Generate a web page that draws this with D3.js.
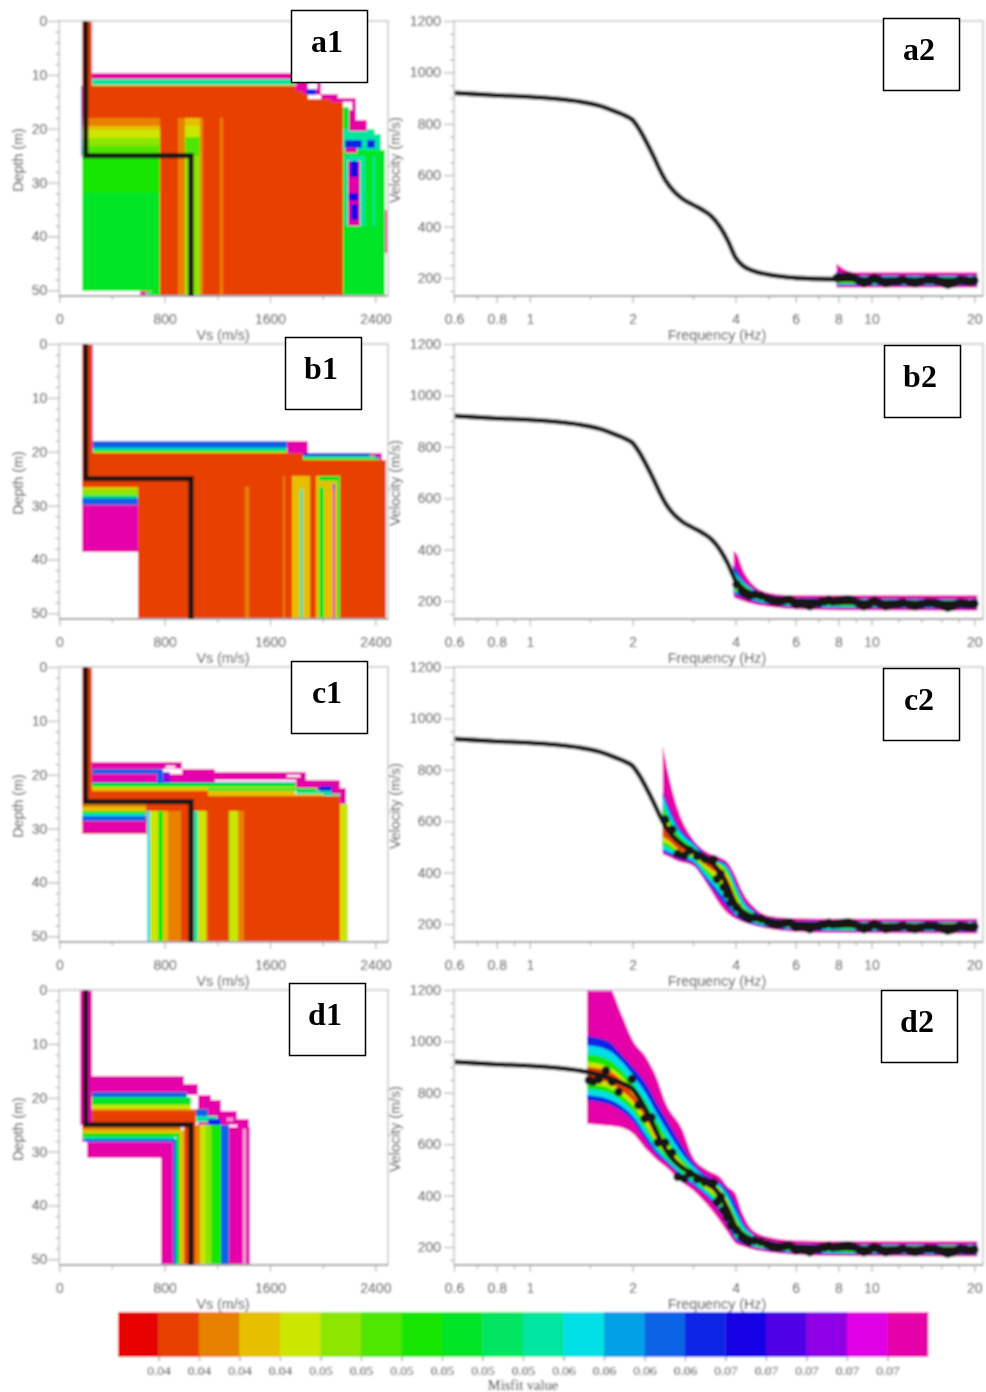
<!DOCTYPE html>
<html><head><meta charset="utf-8">
<script src="https://cdn.jsdelivr.net/npm/d3@7"></script>
<style>html,body{margin:0;padding:0;background:#fff}svg{display:block}</style>
</head><body><svg id="c" width="986" height="1392"></svg>
<script>
// ---------- colour scale / misfit
const misfitColors=["#e60000","#e84000","#e88000","#e6c000","#cce600","#8ce600","#50e600","#14e600","#00e628","#00e664","#00e6a0","#00e0e6","#00a0e6","#0a64e6","#0a28e6","#1400e6","#5000e6","#9000e6","#e000e6","#e600aa"];
const misfitLabels=["0.04","0.04","0.04","0.04","0.05","0.05","0.05","0.05","0.05","0.05","0.06","0.06","0.06","0.06","0.07","0.07","0.07","0.07","0.07"];
const WHITE=20,PINK=21;
const shapeColor=i=>i===WHITE?"#fff":i===PINK?"#f29ad8":misfitColors[i];
// ---------- true model
const trueVs=[200,200,1000,1000];
const trueDepth=[0,25,25,51.1];
// ---------- theoretical dispersion curve
const curveFreq=[0.6,0.7,0.8,1,1.2,1.4,1.6,1.8,1.9,2,2.1,2.2,2.3,2.4,2.5,2.65,2.8,3,3.2,3.4,3.6,3.8,4,4.2,4.5,5,5.5,6,8,12,20.2];
const curveVel=[920,915,911,905,897,886,870,845,832,815,775,726,675,622,578,535,508,485,465,440,400,345,280,248,228,213,205,200,195,193,192];
// ---------- observed points
const obsFreq=[1.49,1.53,1.59,1.67,1.74,1.82,1.99,2.08,2.17,2.27,2.37,2.49,2.61,2.71,2.83,2.94,3.09,3.25,3.38,3.45,3.53,3.62,3.69,3.78,3.88,4.03,4.17,4.28,4.38,4.55,4.75,4.95,5.12,5.3,5.46,5.6,5.75,5.9,6.02,6.15,6.3,6.45,6.6,6.8,7.04,7.15,7.3,7.5,7.7,7.9,8.05,8.2,8.4,8.6,8.9,9.2,9.5,9.8,10,10.2,10.4,10.6,11,11.2,11.4,11.8,12.1,12.4,12.9,13.1,13.4,13.7,14,14.5,14.8,15.2,15.5,15.9,16.3,16.7,17,17.3,17.8,18.2,18.5,18.9,19.3,19.7,20];
const obsVel=[849,843,852,886,843,804,853,752,700,704,606,606,567,473,466,486,464,453,447,450,375,395,343,315,284,265,239,228,220,225,220,210,200,197,200,204,206,197,187,190,192,186,180,190,193,198,198,204,198,200,200,203,205,206,200,190,180,186,195,200,195,190,180,183,186,187,190,193,186,183,180,184,188,193,193,193,190,186,180,174,177,180,188,193,190,190,186,187,190];
// ---------- misfit envelopes of dispersion curves (outer to inner)
const bandColorIdx=[19,14,11,7,4,1];
const a2Freq=[7.9,8.2,8.6,9,10,12,20.4];
const a2Upper=[[255,240,226,222,222,222,222],[225,218,212,210,210,210,210],[218,212,208,207,207,207,207],[212,208,205,204,204,204,204],[208,204,202,201,201,201,201],[204,200,198,197,197,197,197]];
const a2Lower=[[163,163,163,163,163,163,163],[171,171,171,171,170,170,170],[175,175,175,175,174,174,174],[179,179,179,179,178,178,178],[183,183,183,183,182,182,182],[187,187,187,187,186,186,186]];
const b2Freq=[3.95,4.05,4.2,4.5,5,6,8,20.4];
const b2Upper=[[395,380,325,265,232,222,222,222],[340,320,285,250,225,212,210,208],[320,300,275,245,222,210,207,206],[305,288,267,240,220,207,205,204],[290,275,260,236,217,205,203,202],[280,268,255,233,215,203,200,200]];
const b2Lower=[[215,208,200,188,178,168,164,162],[230,220,213,198,186,176,172,170],[238,228,220,205,190,180,176,174],[245,235,226,210,195,184,180,178],[252,242,232,215,200,188,184,182],[262,250,238,222,205,192,188,186]];
const c2Freq=[2.45,2.55,2.7,3,3.3,3.6,3.8,4,4.2,4.5,5,6,8,20.4];
const c2Upper=[[892,780,655,531,480,460,440,388,325,270,232,222,220,220],[715,660,590,520,468,448,425,365,300,255,225,212,210,210],[700,640,575,510,460,440,415,350,290,248,222,210,207,207],[665,615,555,500,455,435,405,335,275,242,220,207,205,205],[625,590,535,490,450,428,390,315,265,236,217,205,203,203],[600,570,520,482,445,420,375,300,257,233,215,203,200,200]];
const c2Lower=[[470,462,445,427,355,275,240,220,208,195,182,170,165,163],[480,470,455,435,365,300,262,230,212,198,186,176,172,170],[490,480,465,445,380,320,280,240,218,205,190,180,176,173],[505,495,475,455,395,340,295,250,225,210,195,184,180,177],[520,510,485,462,410,360,315,260,232,215,200,188,184,181],[540,525,495,470,425,385,340,272,240,222,205,192,188,185]];
const d2Freq=[1.47,1.7,1.85,2,2.2,2.35,2.5,2.8,3,3.3,3.6,3.8,4,4.2,4.5,5,6,8,20.4];
const d2Upper=[[1210,1210,1110,1005,934,860,760,655,551,500,473,434,408,330,265,239,225,222,222],[1020,1000,950,900,830,760,700,590,530,475,450,420,370,300,250,225,212,210,210],[985,965,925,870,790,720,660,560,515,465,440,400,340,285,245,222,210,207,207],[950,930,890,835,755,690,630,540,500,458,430,385,320,270,240,220,207,205,205],[920,900,865,810,735,665,610,525,490,452,425,375,305,262,236,217,205,203,203],[900,885,850,795,720,650,595,515,480,448,420,365,295,257,233,215,203,200,200]];
const d2Lower=[[680,672,665,642,577,540,511,450,421,365,300,255,214,203,190,180,170,165,163],[770,755,730,690,610,560,530,470,440,395,335,280,228,212,198,186,176,172,170],[790,775,750,710,630,575,540,480,450,405,350,295,238,218,203,190,180,176,173],[815,800,770,730,650,590,550,490,460,415,365,310,248,225,208,194,184,180,177],[835,820,790,750,670,605,562,497,470,425,380,325,258,232,213,198,188,184,181],[855,840,810,770,695,620,572,505,478,435,395,340,270,240,220,203,192,188,185]];
// ---------- velocity profile families: [colour, vsFrom, vsTo, depthFrom, depthTo]
const a1Cells=[
[8,2153,2470,24,51.1],[19,2465,2490,35,43],[10,2153,2400,20,24],[10,2400,2440,21,24],[8,2440,2470,24,51.1],
[19,1800,1990,10,13.7],[WHITE,1890,1960,11.6,12.6],[14,1870,1950,12.6,13.7],[19,1985,2120,13.5,15],[19,2110,2250,14.3,18.3],[WHITE,2153,2220,15,16.5],[8,2153,2200,16,20],[19,2200,2340,18.3,20.5],
[14,2170,2300,22,23.5],[14,2340,2395,22,23.5],[19,2170,2260,23.5,24.5],[10,2170,2320,25,38],[19,2190,2285,26,38],[15,2210,2270,26,29],[15,2200,2270,32,33.5],[15,2215,2265,34,37],[10,2385,2395,25,38],
[19,170,1990,9.6,10.8],[10,170,1800,10.8,11.8],[3,170,1800,11.8,12],
[1,170,1800,12,13],[1,170,1850,13,13.6],[1,170,1888,13.6,14.4],[1,170,2060,14.4,15],[1,170,2153,15,51.1],
[2,170,763,18,19.5],[3,170,763,19.5,20.3],[4,170,763,20.3,21.8],[5,170,763,21.8,23.2],[6,170,763,23.2,25],[7,170,763,25,32],[8,170,763,32,50.2],
[WHITE,170,610,50.2,51.1],[19,610,660,50.4,51.1],[10,660,700,50.4,51.1],[8,700,763,50.2,51.1],
[2,902,958,18,51.1],[3,958,1092,18,19.5],[4,958,1092,19.5,21.5],[6,958,1092,21.5,25],[5,958,1092,25,51.1],[2,1065,1092,18,51.1],[2,1218,1244,18,51.1],
[1,170,245,0,12],[15,168,176,12,25]];
const b1Cells=[
[1,170,2480,22,51.1],[WHITE,170,600,38.7,51.1],
[19,1730,1885,18,20.2],[14,1830,2360,20.2,20.8],[19,2360,2450,20.2,21.6],[14,2400,2430,20.8,21.2],[10,1850,2400,20.8,21.2],[6,1850,2430,21.2,21.6],[1,1850,2480,21.6,22],
[13,245,1730,18,19.3],[10,245,1730,19.3,19.7],[8,245,1730,19.7,20],[4,245,1730,20,20.3],[1,170,1850,20.3,26],
[19,170,255,0,20.3],[1,170,245,0,20.3],
[3,170,600,26.5,27],[5,170,600,27,28],[9,170,600,28,28.5],[13,170,600,28.5,29.8],[19,175,600,29.8,38.7],
[2,1410,1440,26.5,51.1],[2,1695,1715,24.5,51.1],[3,1770,1905,24.5,51.1],[10,1825,1850,27,51.1],
[3,1950,2134,24.5,51.1],[8,1975,2010,26.5,51.1],[8,2105,2134,24.5,51.1],[8,1975,2105,24.5,25.5],[19,2075,2090,27,51.1],[14,2075,2090,26,27]];
const c1Cells=[
[1,170,2130,24,51.1],[WHITE,170,665,31,51.1],
[19,245,930,17.7,19],[WHITE,810,880,18.3,18.7],[19,930,1180,19,20],[19,1180,1870,19.5,21],[WHITE,1730,1830,20,20.4],[19,1800,2130,21,23.6],[19,2130,2175,22.5,25.5],[14,1970,2070,22,23.5],
[13,245,790,18.9,19.9],[19,790,1180,19.9,21.3],[17,790,840,19.5,21.3],[19,245,745,19.9,21.5],[13,745,790,19.9,21.5],[14,245,1800,21.3,21.6],[8,245,1800,21.6,22.2],[4,245,1800,22.2,22.5],[3,245,1130,22.5,23],[8,1130,1960,22.5,23],[10,1800,2060,23,23.6],[3,1130,1790,23,24],[3,1790,2000,23.6,24],[10,2000,2130,23.6,24],[1,170,1130,23,25],
[2,170,660,25,26],[3,170,660,26,26.8],[7,170,660,26.8,27.3],[11,170,660,27.3,27.7],[13,170,660,27.7,28.5],[19,180,660,28.5,30.8],
[11,665,690,26.7,51.1],[4,690,750,26.7,51.1],[7,750,790,26.7,51.1],[3,790,825,26.7,51.1],[2,825,925,26.7,51.1],[10,1020,1054,26.7,51.1],[4,1054,1115,26.7,51.1],[2,1115,1130,26.7,51.1],[7,1285,1300,26.7,51.1],[4,1300,1357,26.7,51.1],[2,1357,1403,26.7,51.1],[4,2130,2195,25.5,51.1],
[1,170,245,0,25]];
const d1Cells=[
[19,160,250,0,25],[19,170,250,25,28.2],[19,210,865,28.2,31.2],
[19,250,945,16,19],[19,945,1050,17.5,19.5],[19,1050,1150,19.5,25],[19,1150,1230,20.5,25],[19,1230,1350,22.5,25],[19,1350,1440,24,25.5],[PINK,1270,1320,23.8,24.3],
[13,245,970,19,19.8],[8,245,1000,19.8,21.3],[4,245,1000,21.3,22],[2,245,1040,22,22.5],[1,245,1040,22.5,25],[13,1040,1130,22,23.3],[10,1040,1200,23.3,24.5],[14,1130,1230,24,25],
[2,170,925,25,26],[3,170,925,26,26.5],[7,175,900,26.5,27.2],[10,180,880,27.2,27.7],[13,190,865,27.7,28.2],
[19,776,865,31.2,51.1],[13,865,885,27.7,51.1],[8,885,920,26.5,51.1],[3,920,950,26,51.1],[1,950,1000,25,51.1],
[1,1000,1030,25,51.1],[2,1030,1070,25,51.1],[4,1070,1110,25,51.1],[5,1110,1150,25,51.1],[7,1150,1230,25,51.1],[13,1230,1285,25,51.1],[19,1285,1445,25.5,51.1],[PINK,1395,1420,25.8,51.1]];
// ---------- axes
const vsMajor=[0,800,1600,2400], vsMinor=[400,1200,2000];
const depthMajor=[0,10,20,30,40,50], depthMinor=[2,4,6,8,12,14,16,18,22,24,26,28,32,34,36,38,42,44,46,48];
const freqMajor=[0.6,0.8,1,2,4,6,8,10,20], freqMinor=[0.7,0.9,1.5,3,5,7,9,12,14,16,18];
const velMajor=[200,400,600,800,1000,1200], velMinor=[150,250,300,350,450,500,550,650,700,750,850,900,950,1050,1100,1150];
const panelTops=[21,344,667,990];
const panelNames=["a","b","c","d"];
const profileCells=[a1Cells,b1Cells,c1Cells,d1Cells];
const bandFreqs=[a2Freq,b2Freq,c2Freq,d2Freq];
const bandUppers=[a2Upper,b2Upper,c2Upper,d2Upper];
const bandLowers=[a2Lower,b2Lower,c2Lower,d2Lower];
const obsMinFreq=[7.9,4,2.45,1.47];
const leftBoxes=[[291,10],[285,337],[291,661],[289,983]];
const rightBoxes=[[883,18],[884,345],[883,668],[881,990]];

const H=275, GREY="#c8c8c8", INK="#3c3c3c";
const svg=d3.select("#c");
const defs=svg.append("defs");
defs.append("filter").attr("id","soft").attr("x","-2%").attr("y","-2%").attr("width","104%").attr("height","104%")
  .append("feGaussianBlur").attr("stdDeviation",0.8);
const root=svg.append("g").attr("filter","url(#soft)");
root.append("rect").attr("width",986).attr("height",1392).attr("fill","#fff");
const labelLayer=svg.append("g");

function styleAxis(g,size){
  g.select(".domain").remove();
  g.selectAll(".tick line").attr("stroke","#a0a0a0").attr("stroke-width",1);
  g.selectAll("text").attr("fill",INK).attr("font-family","Liberation Sans, Arial, sans-serif").attr("font-size",size);
}
function frame(g,x0,x1,y0,y1){
  g.append("rect").attr("x",x0).attr("y",y0).attr("width",x1-x0).attr("height",y1-y0)
   .attr("fill","none").attr("stroke",GREY).attr("stroke-width",1.6);
  g.append("line").attr("x1",x0).attr("x2",x1).attr("y1",y1).attr("y2",y1).attr("stroke","#a0a0a0").attr("stroke-width",2);
}
function boxLabel(x,y,t){
  const g=labelLayer.append("g");
  g.append("rect").attr("x",x+0.5).attr("y",y+0.5).attr("width",76).attr("height",72).attr("fill","#fff").attr("stroke","#000").attr("stroke-width",1.5);
  g.append("text").attr("x",x+36).attr("y",y+42).attr("text-anchor","middle").attr("font-family","Liberation Serif, serif").attr("font-weight","bold").attr("font-size",32).attr("fill","#000").text(t);
}

panelTops.forEach((top,p)=>{
  const bottom=top+H;
  // ---- profile panel
  const xV=d3.scaleLinear().domain([0,2496]).range([59.3,388]);
  const yD=d3.scaleLinear().domain([0,51.05]).range([top,bottom]);
  const L=root.append("g");
  const cidL="cl"+p;
  defs.append("clipPath").attr("id",cidL).append("rect").attr("x",59.3).attr("y",top).attr("width",328.7).attr("height",H);
  L.append("g").attr("clip-path",`url(#${cidL})`).selectAll("rect").data(profileCells[p]).join("rect")
    .attr("x",d=>xV(d[1])).attr("width",d=>xV(d[2])-xV(d[1]))
    .attr("y",d=>yD(d[3])).attr("height",d=>yD(d[4])-yD(d[3]))
    .attr("fill",d=>shapeColor(d[0])).attr("shape-rendering","crispEdges");
  frame(L,59.3,388,top,bottom);
  L.append("path").attr("fill","none").attr("stroke","#141414").attr("stroke-width",5.2).attr("stroke-linejoin","miter")
    .attr("clip-path",`url(#${cidL})`)
    .attr("d",d3.line().x((d,i)=>xV(trueVs[i])).y(d=>yD(d))(trueDepth));
  let g=L.append("g").attr("transform",`translate(59.3,0)`).call(d3.axisLeft(yD).tickValues(depthMajor).tickSize(11).tickPadding(1));
  styleAxis(g,14);
  g=L.append("g").attr("transform",`translate(59.3,0)`).call(d3.axisLeft(yD).tickValues(depthMinor).tickSize(4).tickFormat(""));
  styleAxis(g,12);
  g=L.append("g").attr("transform",`translate(0,${bottom})`).call(d3.axisBottom(xV).tickValues(vsMajor).tickSize(7).tickPadding(11).tickFormat(d3.format("d")));
  styleAxis(g,14);
  g=L.append("g").attr("transform",`translate(0,${bottom})`).call(d3.axisBottom(xV).tickValues(vsMinor).tickSize(4).tickFormat(""));
  styleAxis(g,12);
  L.append("text").attr("x",223).attr("y",bottom+44).attr("text-anchor","middle").attr("fill",INK).attr("font-family","Liberation Sans, sans-serif").attr("font-size",14.3).text("Vs (m/s)");
  L.append("text").attr("transform",`translate(23,${top+139}) rotate(-90)`).attr("text-anchor","middle").attr("fill",INK).attr("font-family","Liberation Sans, sans-serif").attr("font-size",14.3).text("Depth (m)");

  // ---- dispersion panel
  const xF=d3.scaleLog().domain([0.6,21.2]).range([454,983]);
  const yVel=d3.scaleLinear().domain([130,1200]).range([bottom,top]);
  const R=root.append("g");
  const cidR="cr"+p;
  defs.append("clipPath").attr("id",cidR).append("rect").attr("x",454).attr("y",top).attr("width",529).attr("height",H);
  const F=bandFreqs[p];
  const bandArea=d3.area().x(d=>xF(d.f)).y0(d=>yVel(d.lo)).y1(d=>yVel(d.up)).curve(d3.curveMonotoneX);
  const bands=R.append("g").attr("clip-path",`url(#${cidR})`);
  bandColorIdx.forEach((ci,k)=>{
    const rows=F.map((f,i)=>({f,up:bandUppers[p][k][i],lo:bandLowers[p][k][i]}));
    bands.append("path").attr("fill",misfitColors[ci]).attr("d",bandArea(rows));
  });
  frame(R,454,983,top,bottom);
  bands.append("path").attr("fill","none").attr("stroke","#141414").attr("stroke-width",4.8)
    .attr("d",d3.line().x((d,i)=>xF(curveFreq[i])).y(d=>yVel(d)).curve(d3.curveMonotoneX)(curveVel));
  const obs=obsFreq.map((f,i)=>({f,v:obsVel[i]})).filter(d=>d.f>=obsMinFreq[p]);
  bands.append("g").selectAll("circle").data(obs).join("circle")
    .attr("cx",d=>xF(d.f)).attr("cy",d=>yVel(d.v)).attr("r",4.4).attr("fill","#141414");
  g=R.append("g").attr("transform","translate(454,0)").call(d3.axisLeft(yVel).tickValues(velMajor).tickSize(10).tickPadding(3).tickFormat(d3.format("d")));
  styleAxis(g,14);
  g=R.append("g").attr("transform","translate(454,0)").call(d3.axisLeft(yVel).tickValues(velMinor).tickSize(4).tickFormat(""));
  styleAxis(g,12);
  g=R.append("g").attr("transform",`translate(0,${bottom})`).call(d3.axisBottom(xF).tickValues(freqMajor).tickSize(7).tickPadding(11).tickFormat(d=>String(d)));
  styleAxis(g,14);
  g=R.append("g").attr("transform",`translate(0,${bottom})`).call(d3.axisBottom(xF).tickValues(freqMinor).tickSize(4).tickFormat(""));
  styleAxis(g,12);
  R.append("text").attr("x",717).attr("y",bottom+44).attr("text-anchor","middle").attr("fill",INK).attr("font-family","Liberation Sans, sans-serif").attr("font-size",14.3).text("Frequency (Hz)");
  R.append("text").attr("transform",`translate(400,${top+139}) rotate(-90)`).attr("text-anchor","middle").attr("fill",INK).attr("font-family","Liberation Sans, sans-serif").attr("font-size",14.3).text("Velocity (m/s)");

  boxLabel(leftBoxes[p][0],leftBoxes[p][1],panelNames[p]+"1");
  boxLabel(rightBoxes[p][0],rightBoxes[p][1],panelNames[p]+"2");
});

// ---------- colour bar
const xBar=d3.scaleLinear().domain([0,misfitColors.length]).range([118,928]);
const bar=root.append("g");
bar.selectAll("rect").data(misfitColors).join("rect")
  .attr("x",(d,i)=>xBar(i)).attr("width",(d,i)=>xBar(i+1)-xBar(i)+0.3)
  .attr("y",1312).attr("height",45).attr("fill",d=>d);
const barAxis=bar.append("g").attr("transform","translate(0,1357)")
  .call(d3.axisBottom(xBar).tickValues(d3.range(1,20)).tickSize(4).tickPadding(4).tickFormat((d,i)=>misfitLabels[i]));
barAxis.select(".domain").remove();
barAxis.selectAll("line").attr("stroke","#777");
barAxis.selectAll("text").attr("fill","#222").attr("font-family","Liberation Serif, serif").attr("font-size",13.5);
bar.append("text").attr("x",523).attr("y",1390).attr("text-anchor","middle").attr("fill","#222").attr("font-family","Liberation Serif, serif").attr("font-size",14.5).text("Misfit value");
</script></body></html>
